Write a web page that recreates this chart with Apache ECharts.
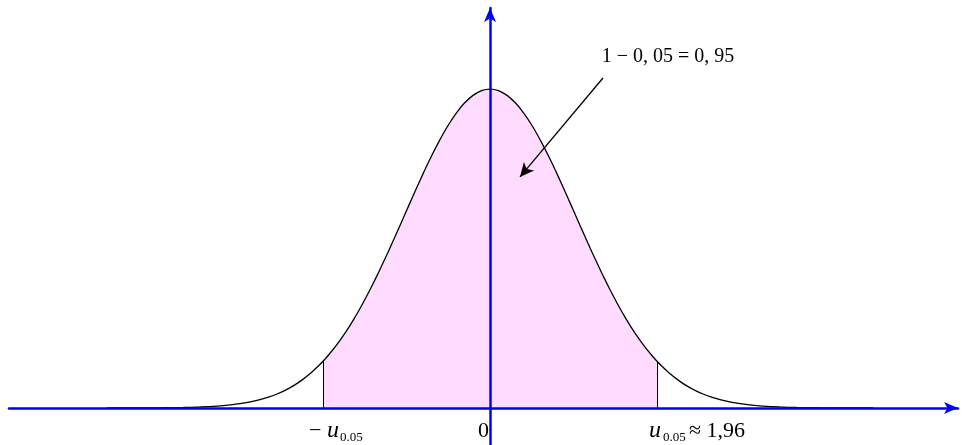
<!DOCTYPE html>
<html>
<head>
<meta charset="utf-8">
<script src="https://cdn.jsdelivr.net/npm/echarts@6/dist/echarts.min.js"></script>
<style>
  html, body { margin: 0; padding: 0; background: #fff; }
  #chart { width: 962px; height: 445px; }
</style>
</head>
<body>
<div id="chart"></div>
<script>
// Standard normal density, sampled points (x, f(x))
const xs = [-4.5, -4, -3.8, -3.6, -3.4, -3.2, -3, -2.9, -2.8, -2.7, -2.6, -2.5, -2.4, -2.3, -2.2, -2.1, -2, -1.96,
            -1.9, -1.8, -1.7, -1.6, -1.5, -1.4, -1.3, -1.2, -1.1, -1, -0.9, -0.8, -0.7, -0.6, -0.5, -0.4, -0.3, -0.2, -0.1,
            0,
            0.1, 0.2, 0.3, 0.4, 0.5, 0.6, 0.7, 0.8, 0.9, 1, 1.1, 1.2, 1.3, 1.4, 1.5, 1.6, 1.7, 1.8, 1.9,
            1.96, 2, 2.1, 2.2, 2.3, 2.4, 2.5, 2.6, 2.7, 2.8, 2.9, 3, 3.2, 3.4, 3.6, 3.8, 4, 4.5];
const ys = [0.00002, 0.0001, 0.0003, 0.0006, 0.0012, 0.0024, 0.0044, 0.0060, 0.0079, 0.0104, 0.0136, 0.0175, 0.0224, 0.0283, 0.0355, 0.0440, 0.0540, 0.0584,
            0.0656, 0.0790, 0.0940, 0.1109, 0.1295, 0.1497, 0.1714, 0.1942, 0.2179, 0.2420, 0.2661, 0.2897, 0.3123, 0.3332, 0.3521, 0.3683, 0.3814, 0.3910, 0.3970,
            0.3989,
            0.3970, 0.3910, 0.3814, 0.3683, 0.3521, 0.3332, 0.3123, 0.2897, 0.2661, 0.2420, 0.2179, 0.1942, 0.1714, 0.1497, 0.1295, 0.1109, 0.0940, 0.0790, 0.0656,
            0.0584, 0.0540, 0.0440, 0.0355, 0.0283, 0.0224, 0.0175, 0.0136, 0.0104, 0.0079, 0.0060, 0.0044, 0.0024, 0.0012, 0.0006, 0.0003, 0.0001, 0.00002];

// Critical value and confidence level
const uCrit = 1.96;
const fCrit = 0.0584;
const levelText = '1 − 0, 05 = 0, 95';
const critLeft = ['−', 'u', '0.05'];
const critRight = ['u', '0.05', '≈ 1,96'];
const originLabel = '0';

// Annotation arrow: from (start) to (end), data coordinates
const arrowStart = [1.326, 0.4127];
const arrowEnd = [0.352, 0.289];
const levelTextPos = [2.09, 0.4390];

const curve = xs.map((x, i) => [x, ys[i]]);
const shaded = curve.filter(p => Math.abs(p[0]) <= uCrit + 1e-9);

const chart = echarts.init(document.getElementById('chart'), null, { renderer: 'canvas' });

const axisColor = '#0000ff';
const serif = '"Liberation Serif", "DejaVu Serif", serif';

chart.setOption({
  animation: false,
  backgroundColor: '#ffffff',
  grid: { left: 9, right: 4, top: 8, bottom: 0, containLabel: false },
  xAxis: {
    type: 'value', min: -5.646, max: 5.493, z: 5,
    axisLine: { onZero: true, lineStyle: { color: axisColor, width: 2.5 }, symbol: ['none', 'arrow'], symbolSize: [9, 14], symbolOffset: [0, 0] },
    axisTick: { show: false }, axisLabel: { show: false }, splitLine: { show: false }
  },
  yAxis: {
    type: 'value', min: -0.0463, max: 0.5003, z: 5,
    axisLine: { onZero: true, lineStyle: { color: axisColor, width: 2.5 }, symbol: ['none', 'arrow'], symbolSize: [9, 14], symbolOffset: [0, 0] },
    axisTick: { show: false }, axisLabel: { show: false }, splitLine: { show: false }
  },
  series: [
    {
      type: 'line', data: shaded, smooth: 0.2, showSymbol: false, silent: true, z: 1,
      lineStyle: { width: 0 }, areaStyle: { color: '#ffdcff', opacity: 1 }
    },
    {
      type: 'line', data: curve, smooth: 0.2, showSymbol: false, silent: true, z: 2,
      lineStyle: { color: '#000000', width: 1.3 },
      markLine: {
        silent: true, animation: false,
        symbol: ['none', 'none'],
        label: { show: false },
        lineStyle: { color: '#000000', width: 1, type: 'solid' },
        data: [
          [{ coord: [-uCrit, 0] }, { coord: [-uCrit, fCrit] }],
          [{ coord: [uCrit, 0] }, { coord: [uCrit, fCrit] }]
        ]
      }
    },
    {
      type: 'line', data: [], silent: true, z: 3,
      markLine: {
        silent: true, animation: false,
        symbol: ['none', 'arrow'], symbolSize: [10, 14],
        label: { show: false },
        lineStyle: { color: '#000000', width: 1.3, type: 'solid' },
        data: [[{ coord: arrowStart }, { coord: arrowEnd }]]
      }
    }
  ]
});

// Text labels positioned through the axes' scales
const px = (p) => chart.convertToPixel({ gridIndex: 0 }, p);
const L = px([-uCrit, 0]);
const O = px([0, 0]);
const R = px([uCrit, 0]);
const T = px(levelTextPos);

function txt(x, y, text, size, italic, align) {
  return {
    type: 'text', x: x, y: y, silent: true, z: 20,
    style: { text: text, fill: '#000', font: (italic ? 'italic ' : '') + size + 'px ' + serif, align: align || 'left', verticalAlign: 'middle' }
  };
}

chart.setOption({
  graphic: [
    txt(L[0] - 14, L[1] + 23, critLeft[0], 22, false),
    txt(L[0] + 4, L[1] + 23, critLeft[1], 24, true),
    txt(L[0] + 17, L[1] + 30, critLeft[2], 13, false),
    txt(O[0] - 12, O[1] + 23, originLabel, 22, false),
    txt(R[0] - 8, R[1] + 23, critRight[0], 24, true),
    txt(R[0] + 6, R[1] + 30, critRight[1], 13, false),
    txt(R[0] + 32, R[1] + 23, critRight[2], 22, false),
    txt(T[0], T[1], levelText, 20, false, 'center')
  ]
});
</script>
</body>
</html>
